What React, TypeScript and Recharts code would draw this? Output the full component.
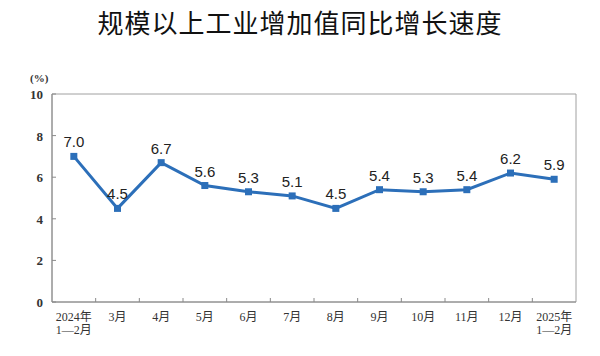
import { LineChart, Line, XAxis, YAxis, LabelList, ReferenceArea } from 'recharts';

const months = ['2024年\n1—2月', '3月', '4月', '5月', '6月', '7月', '8月', '9月', '10月', '11月', '12月', '2025年\n1—2月'];
const growth = [7.0, 4.5, 6.7, 5.6, 5.3, 5.1, 4.5, 5.4, 5.3, 5.4, 6.2, 5.9];
const yTicks = [0, 2, 4, 6, 8, 10];

const data = months.map((m, i) => ({ month: m, value: growth[i] }));

const serif = '"Liberation Serif", "Times New Roman", "Noto Sans CJK SC", serif';
const axisColor = '#8a8a8a';
const lineColor = '#2c6fb9';

const YTick = (props: any) => {
  const { x, y, payload } = props;
  return (
    <g>
      <line x1={x + 8} x2={x + 12} y1={y} y2={y} stroke={axisColor} strokeWidth={1} />
      <text x={x - 1} y={y + 5} textAnchor="end" fontFamily={serif} fontSize={13} fill="#333" fontWeight="bold">
        {payload.value}
      </text>
    </g>
  );
};

const XTick = (props: any) => {
  const { x, y, payload, index, width, visibleTicksCount } = props;
  const band = width / visibleTicksCount;
  const lines = String(payload.value).split('\n');
  return (
    <g>
      {index > 0 && (
        <line x1={x - band / 2} x2={x - band / 2} y1={y} y2={y - 4} stroke={axisColor} strokeWidth={1} />
      )}
      <text textAnchor="middle" fontFamily={serif} fontSize={12} fill="#333">
        {lines.map((t, i) => (
          <tspan key={i} x={x} y={y + 19 + i * 13}>
            {t}
          </tspan>
        ))}
      </text>
    </g>
  );
};

export default function App() {
  return (
    <div style={{ position: 'absolute', left: 0, top: 0, width: 600, height: 356, background: '#fff' }}>
      <div
        style={{
          position: 'absolute',
          top: 6,
          left: 0,
          width: 600,
          textAlign: 'center',
          fontFamily: '"Noto Sans CJK SC", sans-serif',
          fontSize: 26,
          letterSpacing: 1,
          color: '#111',
          lineHeight: '32px',
        }}
      >
        规模以上工业增加值同比增长速度
      </div>
      <div
        style={{
          position: 'absolute',
          top: 72,
          left: 30,
          fontFamily: serif,
          fontSize: 11,
          color: '#333',
          fontWeight: 'bold',
        }}
      >
        (%)
      </div>
      <LineChart width={600} height={356} data={data} margin={{ top: 94, right: 24, bottom: 0, left: 0 }}>
        <ReferenceArea y1={0} y2={10} fill="none" stroke="#a0a0a0" strokeWidth={1} ifOverflow="visible" />
        <XAxis
          dataKey="month"
          scale="band"
          interval={0}
          height={54}
          tickSize={0}
          tickMargin={0}
          tickLine={false}
          stroke={axisColor}
          tick={<XTick />}
        />
        <YAxis
          domain={[0, 10]}
          ticks={yTicks}
          width={52}
          tickSize={0}
          tickMargin={8}
          tickLine={false}
          stroke={axisColor}
          tick={<YTick />}
        />
        <Line
          type="linear"
          dataKey="value"
          stroke={lineColor}
          strokeWidth={3}
          isAnimationActive={false}
          dot={{ r: 0 }}
          activeDot={false}
        >
          <LabelList
            dataKey="value"
            position="top"
            offset={9}
            fontSize={15}
            fontFamily='"Liberation Sans", Arial, sans-serif'
            fill="#222"
            formatter={(v: any) => Number(v).toFixed(1)}
          />
        </Line>
        <Line
          type="linear"
          dataKey="value"
          stroke="none"
          isAnimationActive={false}
          legendType="none"
          activeDot={false}
          dot={(p: any) => (
            <rect key={p.index} x={p.cx - 3.5} y={p.cy - 3.5} width={7} height={7} fill={lineColor} />
          )}
        />
      </LineChart>
    </div>
  );
}
